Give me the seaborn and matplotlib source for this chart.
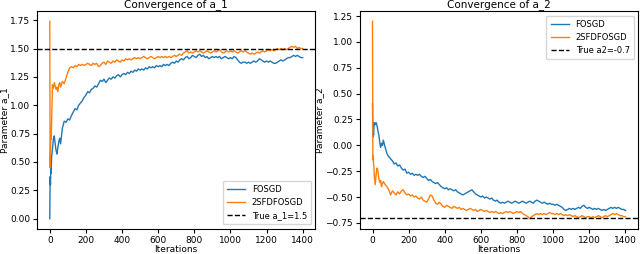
import matplotlib
matplotlib.use("Agg")
import matplotlib.pyplot as plt
import seaborn as sns
import pandas as pd

# iteration grid (finer at the start)
iters = [0, 2, 4, 6, 8, 10, 15, 20, 25, 30, 35, 40, 45, 50, 55, 60, 70, 80, 90, 100] + list(range(110, 1410, 10))

# estimates of a_1
a1_fosgd = [0.00, 0.37, 0.30, 0.45, 0.40, 0.54, 0.62, 0.70, 0.73, 0.66,
            0.60, 0.57, 0.63, 0.68, 0.71, 0.66, 0.80, 0.86, 0.85, 0.88,
            # 110 - 200
            0.87, 0.91, 0.94, 0.97, 0.96, 1.00, 1.02, 1.04, 1.07, 1.09,
            1.12, 1.11, 1.14, 1.15, 1.17, 1.16, 1.19, 1.22, 1.21, 1.23,
            1.20, 1.22, 1.24, 1.23, 1.25, 1.24, 1.26, 1.27, 1.25, 1.27,
            1.28, 1.27, 1.29, 1.28, 1.30, 1.29, 1.31, 1.30, 1.32, 1.31,
            1.32, 1.31, 1.33, 1.32, 1.34, 1.33, 1.34, 1.33, 1.35, 1.34,
            1.35, 1.34, 1.36, 1.35, 1.36, 1.35, 1.37, 1.38, 1.37, 1.39,
            1.38, 1.40, 1.41, 1.40, 1.42, 1.43, 1.41, 1.42, 1.44, 1.43,
            1.42, 1.44, 1.45, 1.43, 1.44, 1.42, 1.43, 1.41, 1.42, 1.43,
            1.42, 1.43, 1.42, 1.43, 1.41, 1.42, 1.43, 1.42, 1.41, 1.42,
            1.41, 1.43, 1.42, 1.40, 1.38, 1.37, 1.38, 1.38, 1.37, 1.38,
            1.37, 1.38, 1.39, 1.38, 1.39, 1.41, 1.40, 1.39, 1.38, 1.39,
            1.38, 1.39, 1.38, 1.37, 1.37, 1.38, 1.39, 1.40, 1.39, 1.40,
            1.41, 1.42, 1.42, 1.43, 1.44, 1.43, 1.44, 1.43, 1.42, 1.42]

a1_2sfd = [1.74, 0.45, 0.60, 0.80, 0.70, 0.85, 1.18, 1.15, 1.20, 1.17,
           1.14, 1.16, 1.12, 1.18, 1.20, 1.16, 1.21, 1.19, 1.24, 1.29,
           1.33, 1.34, 1.33, 1.35, 1.34, 1.36, 1.35, 1.36, 1.35, 1.36,
           1.37, 1.36, 1.35, 1.37, 1.36, 1.37, 1.34, 1.35, 1.37, 1.38,
           1.36, 1.39, 1.38, 1.37, 1.39, 1.38, 1.40, 1.39, 1.38, 1.40,
           1.39, 1.41, 1.40, 1.41, 1.40, 1.41, 1.42, 1.41, 1.42, 1.41,
           1.42, 1.43, 1.42, 1.41, 1.42, 1.43, 1.42, 1.41, 1.42, 1.43,
           1.42, 1.43, 1.42, 1.43, 1.42, 1.43, 1.42, 1.43, 1.44, 1.43,
           1.44, 1.45, 1.44, 1.46, 1.47, 1.48, 1.46, 1.47, 1.46, 1.47,
           1.48, 1.47, 1.48, 1.47, 1.46, 1.47, 1.48, 1.47, 1.46, 1.47,
           1.48, 1.47, 1.48, 1.49, 1.47, 1.46, 1.47, 1.48, 1.47, 1.48,
           1.47, 1.48, 1.47, 1.46, 1.47, 1.48, 1.47, 1.48, 1.47, 1.46,
           1.45, 1.46, 1.45, 1.46, 1.47, 1.46, 1.47, 1.48, 1.47, 1.48,
           1.49, 1.48, 1.49, 1.48, 1.49, 1.50, 1.49, 1.50, 1.49, 1.50,
           1.49, 1.50, 1.51, 1.52, 1.51, 1.52, 1.50, 1.51, 1.50, 1.50]

# estimates of a_2
a2_fosgd = [0.40, 0.08, 0.15, 0.10, 0.18, 0.22, 0.20, 0.22, 0.19, 0.14,
            0.10, 0.03, -0.02, 0.02, 0.00, 0.05, -0.02, -0.08, -0.11, -0.13,
            -0.15, -0.18, -0.17, -0.20, -0.19, -0.22, -0.24, -0.23, -0.27, -0.26,
            -0.28, -0.27, -0.29, -0.28, -0.29, -0.28, -0.30, -0.31, -0.30, -0.32,
            -0.34, -0.33, -0.35, -0.36, -0.37, -0.36, -0.38, -0.40, -0.41, -0.42,
            -0.41, -0.43, -0.42, -0.43, -0.44, -0.43, -0.45, -0.46, -0.47, -0.48,
            -0.47, -0.46, -0.45, -0.44, -0.43, -0.45, -0.47, -0.48, -0.49, -0.50,
            -0.49, -0.51, -0.50, -0.51, -0.52, -0.51, -0.53, -0.54, -0.53, -0.55,
            -0.56, -0.55, -0.56, -0.55, -0.54, -0.55, -0.56, -0.55, -0.54, -0.55,
            -0.56, -0.55, -0.54, -0.55, -0.56, -0.55, -0.54, -0.55, -0.56, -0.54,
            -0.53, -0.54, -0.55, -0.56, -0.55, -0.56, -0.57, -0.56, -0.57, -0.57,
            -0.58, -0.57, -0.58, -0.59, -0.60, -0.62, -0.63, -0.62, -0.61, -0.62,
            -0.61, -0.62, -0.61, -0.60, -0.61, -0.59, -0.58, -0.60, -0.61, -0.60,
            -0.61, -0.62, -0.61, -0.62, -0.61, -0.62, -0.63, -0.62, -0.63, -0.62,
            -0.61, -0.60, -0.61, -0.60, -0.61, -0.60, -0.61, -0.62, -0.62, -0.63]

a2_2sfd = [1.20, -0.14, -0.10, -0.18, -0.22, -0.30, -0.38, -0.28, -0.22, -0.25,
           -0.32, -0.36, -0.34, -0.40, -0.37, -0.35, -0.38, -0.40, -0.43, -0.48,
           -0.44, -0.46, -0.48, -0.45, -0.47, -0.44, -0.43, -0.46, -0.48, -0.47,
           -0.49, -0.48, -0.50, -0.49, -0.51, -0.52, -0.50, -0.53, -0.54, -0.55,
           -0.52, -0.48, -0.49, -0.53, -0.56, -0.57, -0.55, -0.57, -0.59, -0.60,
           -0.58, -0.59, -0.60, -0.61, -0.59, -0.60, -0.61, -0.60, -0.62, -0.61,
           -0.62, -0.63, -0.62, -0.61, -0.62, -0.63, -0.62, -0.64, -0.63, -0.62,
           -0.63, -0.64, -0.63, -0.64, -0.65, -0.64, -0.65, -0.64, -0.65, -0.66,
           -0.65, -0.66, -0.65, -0.64, -0.65, -0.64, -0.65, -0.66, -0.65, -0.64,
           -0.65, -0.64, -0.66, -0.67, -0.68, -0.69, -0.71, -0.69, -0.68, -0.67,
           -0.66, -0.67, -0.66, -0.67, -0.66, -0.67, -0.66, -0.65, -0.66, -0.66,
           -0.67, -0.66, -0.67, -0.66, -0.67, -0.68, -0.67, -0.68, -0.67, -0.68,
           -0.69, -0.68, -0.69, -0.70, -0.69, -0.68, -0.69, -0.70, -0.69, -0.69,
           -0.70, -0.69, -0.70, -0.69, -0.68, -0.69, -0.70, -0.69, -0.68, -0.69,
           -0.68, -0.67, -0.66, -0.67, -0.66, -0.67, -0.68, -0.68, -0.69, -0.69]

true_a1 = 1.5
true_a2 = -0.7

df = pd.DataFrame({"it": iters, "a1_f": a1_fosgd, "a1_s": a1_2sfd,
                   "a2_f": a2_fosgd, "a2_s": a2_2sfd})

plt.rcParams['font.size'] = 6.5
plt.rcParams['xtick.major.size'] = 3
plt.rcParams['ytick.major.size'] = 3
plt.rcParams['xtick.major.pad'] = 2
plt.rcParams['ytick.major.pad'] = 2
fig, axes = plt.subplots(1, 2, figsize=(6.4, 2.54), dpi=100)
fig.subplots_adjust(left=0.058, right=0.997, top=0.955, bottom=0.1, wspace=0.16)

ax = axes[0]
sns.lineplot(data=df, x="it", y="a1_f", ax=ax, label="FOSGD", color="#1f77b4", lw=1)
sns.lineplot(data=df, x="it", y="a1_s", ax=ax, label="2SFDFOSGD", color="#ff7f0e", lw=1)
ax.axhline(true_a1, color="k", ls="--", lw=1, label="True a_1=1.5")
ax.set_title("Convergence of a_1", fontsize=7.5, pad=3)
ax.set_xlabel("Iterations", labelpad=0)
ax.set_ylabel("Parameter a_1", labelpad=1)
ax.set_xticks(range(0, 1401, 200))
ax.legend(loc="lower right", fontsize=6, handlelength=2.2, borderpad=0.5, labelspacing=0.5)

ax = axes[1]
sns.lineplot(data=df, x="it", y="a2_f", ax=ax, label="FOSGD", color="#1f77b4", lw=1)
sns.lineplot(data=df, x="it", y="a2_s", ax=ax, label="2SFDFOSGD", color="#ff7f0e", lw=1)
ax.axhline(true_a2, color="k", ls="--", lw=1, label="True a2=-0.7")
ax.set_title("Convergence of a_2", fontsize=7.5, pad=3)
ax.set_xlabel("Iterations", labelpad=0)
ax.set_ylabel("Parameter a_2", labelpad=1)
ax.set_xticks(range(0, 1401, 200))
ax.legend(loc="upper right", fontsize=6, handlelength=2.2, borderpad=0.5, labelspacing=0.5)

fig.savefig("out.png", dpi=100)
